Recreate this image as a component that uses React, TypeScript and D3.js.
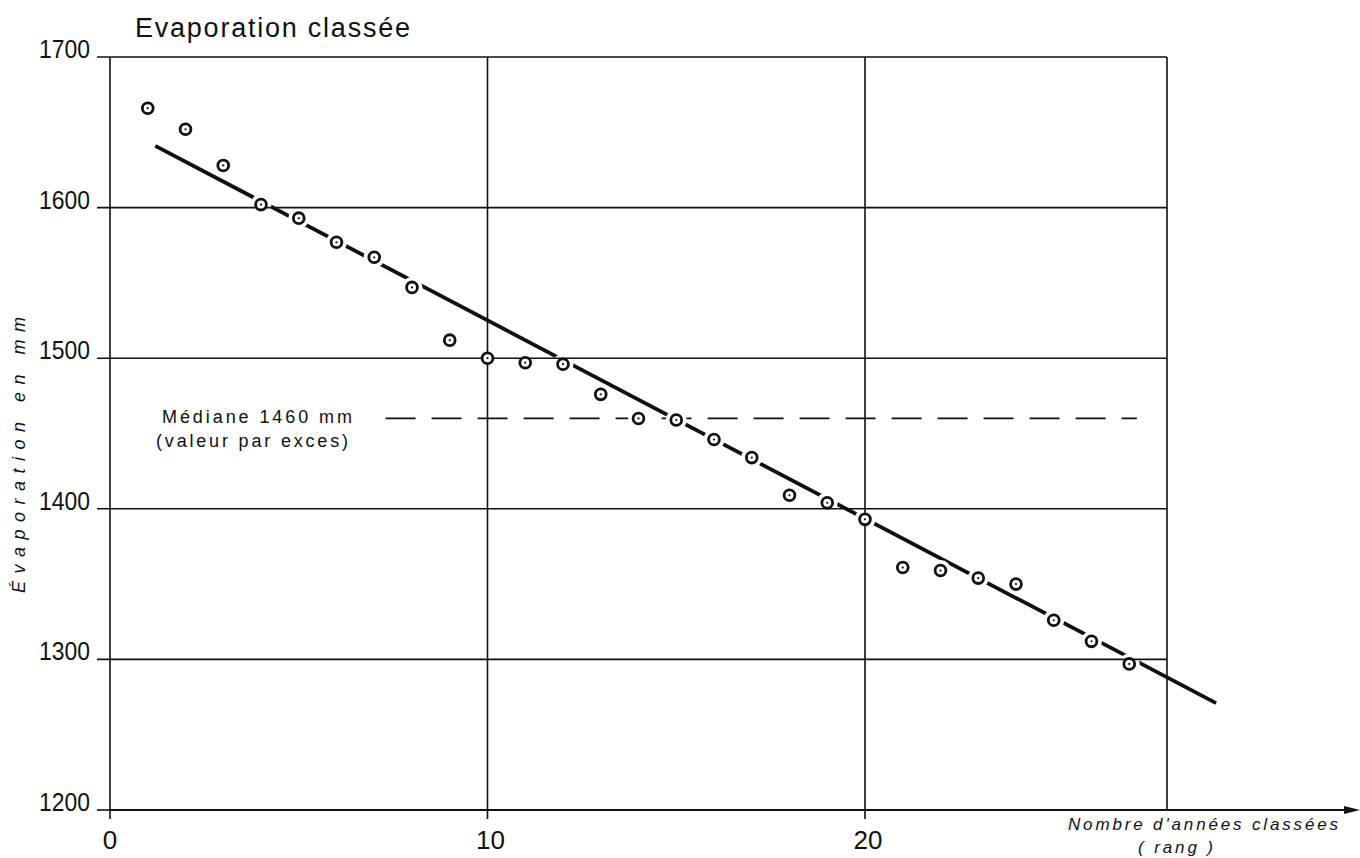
/**
 * Evaporation classée – ranked annual evaporation with fitted line
 */
import React, { useRef, useEffect } from 'react';
import * as d3 from 'd3';

// rank of each year
const ranks = [
  1, 2, 3, 4, 5, 6, 7, 8, 9, 10, 11, 12, 13, 14,
  15, 16, 17, 18, 19, 20, 21, 22, 23, 24, 25, 26, 27,
];
// evaporation in mm
const evaporation = [
  1666, 1652, 1628, 1602, 1593, 1577, 1567, 1547, 1512, 1500, 1497, 1496, 1476, 1460,
  1459, 1446, 1434, 1409, 1404, 1393, 1361, 1359, 1354, 1350, 1326, 1312, 1297,
];
// fitted straight line (rank, mm) end points
const fitRanks = [1.2, 29.3];
const fitValues = [1641, 1271];
// median
const medianValue = 1460;
const medianRanks = [7.3, 27.2];

const yTicks = [1200, 1300, 1400, 1500, 1600, 1700];
const xTicks = [0, 10, 20];
const xFrame = [0, 10, 20, 28];

const WIDTH = 1360;
const HEIGHT = 858;
const FONT = '"Liberation Sans", Arial, sans-serif';

export default function App(): React.ReactElement {
  const svgRef = useRef<SVGSVGElement>(null);

  useEffect(() => {
    if (!svgRef.current) return;
    const svg = d3.select(svgRef.current);
    svg.selectAll('*').remove();

    const x = d3.scaleLinear().domain([0, 28]).range([110, 1167]);
    const y = d3.scaleLinear().domain([1200, 1700]).range([810, 57]);

    svg.append('rect').attr('width', WIDTH).attr('height', HEIGHT).attr('fill', '#fff');

    // mask that opens gaps in the lines around each plotted point
    const defs = svg.append('defs');
    const mask = defs.append('mask').attr('id', 'pt-gaps')
      .attr('maskUnits', 'userSpaceOnUse')
      .attr('x', 0).attr('y', 0).attr('width', WIDTH).attr('height', HEIGHT);
    mask.append('rect').attr('width', WIDTH).attr('height', HEIGHT).attr('fill', '#fff');
    ranks.forEach((r, i) => {
      mask.append('circle')
        .attr('cx', x(r))
        .attr('cy', y(evaporation[i]))
        .attr('r', 10.5)
        .attr('fill', '#000');
    });

    const ink = '#111';

    // horizontal grid lines
    yTicks.forEach((t) => {
      svg.append('line')
        .attr('x1', x(0) - 13).attr('x2', t === 1200 ? x(0) : x(28))
        .attr('y1', y(t)).attr('y2', y(t))
        .attr('stroke', ink).attr('stroke-width', 1.6);

      svg.append('text')
        .attr('x', 90).attr('y', y(t) + 1)
        .attr('text-anchor', 'end')
        .attr('font-family', FONT)
        .attr('font-size', 25)
        .attr('textLength', 51)
        .attr('lengthAdjust', 'spacingAndGlyphs')
        .attr('fill', ink)
        .text(t);
    });

    // vertical grid lines / frame
    xFrame.forEach((t) => {
      svg.append('line')
        .attr('x1', x(t)).attr('x2', x(t))
        .attr('y1', y(1700)).attr('y2', t === 28 ? y(1200) : y(1200) + 9)
        .attr('stroke', ink).attr('stroke-width', 1.6);
    });

    xTicks.forEach((t) => {
      svg.append('text')
        .attr('x', x(t) + (t === 0 ? 0 : 3)).attr('y', 849)
        .attr('text-anchor', 'middle')
        .attr('font-family', FONT)
        .attr('font-size', 26)
        .attr('fill', ink)
        .text(t);
    });

    // x axis with arrow
    svg.append('line')
      .attr('x1', x(0)).attr('x2', 1346)
      .attr('y1', y(1200)).attr('y2', y(1200))
      .attr('stroke', ink).attr('stroke-width', 1.8);
    svg.append('path')
      .attr('d', `M1344,${y(1200) - 4} L1360,${y(1200)} L1344,${y(1200) + 4} Z`)
      .attr('fill', ink);

    // fitted line
    svg.append('line')
      .attr('x1', x(fitRanks[0])).attr('y1', y(fitValues[0]))
      .attr('x2', x(fitRanks[1])).attr('y2', y(fitValues[1]))
      .attr('stroke', ink).attr('stroke-width', 3.8)
      .attr('mask', 'url(#pt-gaps)');

    // median dashed line
    svg.append('line')
      .attr('x1', x(medianRanks[0])).attr('x2', x(medianRanks[1]))
      .attr('y1', y(medianValue)).attr('y2', y(medianValue))
      .attr('stroke', ink).attr('stroke-width', 1.7)
      .attr('stroke-dasharray', '30 16')
      .attr('mask', 'url(#pt-gaps)');

    // points: ring with centre dot
    const pts = svg.append('g');
    ranks.forEach((r, i) => {
      const cx = x(r);
      const cy = y(evaporation[i]);
      pts.append('circle')
        .attr('cx', cx).attr('cy', cy).attr('r', 5.4)
        .attr('fill', '#fff').attr('stroke', ink).attr('stroke-width', 2.8);
      pts.append('circle')
        .attr('cx', cx).attr('cy', cy).attr('r', 1.1)
        .attr('fill', ink);
    });

    // title
    svg.append('text')
      .attr('x', 135).attr('y', 37)
      .attr('font-family', FONT)
      .attr('font-size', 27)
      .attr('textLength', 275)
      .attr('lengthAdjust', 'spacing')
      .attr('fill', ink)
      .text('Evaporation classée');

    // median annotation
    svg.append('text')
      .attr('x', 162).attr('y', 423)
      .attr('font-family', FONT)
      .attr('font-size', 18)
      .attr('textLength', 190)
      .attr('lengthAdjust', 'spacing')
      .attr('fill', ink)
      .text('Médiane  1460 mm');
    svg.append('text')
      .attr('x', 156).attr('y', 447)
      .attr('font-family', FONT)
      .attr('font-size', 18)
      .attr('textLength', 192)
      .attr('lengthAdjust', 'spacing')
      .attr('fill', ink)
      .text('(valeur par exces)');

    // axis titles
    svg.append('text')
      .attr('transform', 'translate(25, 455) rotate(-90)')
      .attr('text-anchor', 'middle')
      .attr('font-family', FONT)
      .attr('font-style', 'italic')
      .attr('font-size', 18)
      .attr('textLength', 276)
      .attr('lengthAdjust', 'spacing')
      .attr('fill', ink)
      .text('Évaporation en mm');

    svg.append('text')
      .attr('x', 1068).attr('y', 830)
      .attr('font-family', FONT)
      .attr('font-style', 'italic')
      .attr('font-size', 17)
      .attr('textLength', 270)
      .attr('lengthAdjust', 'spacing')
      .attr('fill', ink)
      .text("Nombre d'années classées");
    svg.append('text')
      .attr('x', 1138).attr('y', 853)
      .attr('font-family', FONT)
      .attr('font-style', 'italic')
      .attr('font-size', 17)
      .attr('textLength', 75)
      .attr('lengthAdjust', 'spacing')
      .attr('fill', ink)
      .text('( rang )');
  }, []);

  return (
    <svg
      ref={svgRef}
      width={WIDTH}
      height={HEIGHT}
      style={{ position: 'absolute', left: 0, top: 0, display: 'block' }}
    />
  );
}
